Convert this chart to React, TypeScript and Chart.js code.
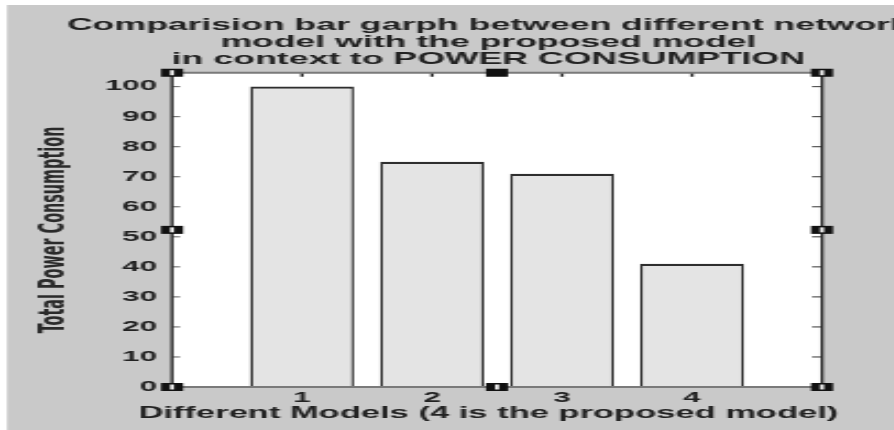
import React, { useEffect, useRef } from "react";
import { Chart, registerables } from "chart.js";

Chart.register(...registerables);

// ---- data ----
const models = [1, 2, 3, 4];
const powerConsumption = [100, 75, 71, 41];
const titleLines = [
  "Comparision bar garph between different network",
  "model with the proposed model",
  "in context to POWER CONSUMPTION",
];
const xTitle = "Different Models (4 is the proposed model)";
const yTitle = "Total Power Consumption";
const xRange = [0, 5];
const yRange = [0, 104.6];
const yStep = 10;

// ---- layout (the picture is horizontally stretched, like the reference) ----
const SCALE_X = 2.2;
const CANVAS_W = 444;
const CANVAS_H = 430;
const FONT = "'Liberation Sans', Arial, Helvetica, sans-serif";
const NARROW = "'Liberation Sans Narrow', 'Arial Narrow', 'DejaVu Sans Condensed', 'Liberation Sans', sans-serif";
const TEXT = "#222222";

const matlabFrame = {
  id: "matlabFrame",
  beforeDraw(chart: any) {
    const { ctx, width, height, chartArea: a } = chart;
    ctx.save();
    ctx.fillStyle = "#ffffff";
    ctx.fillRect(0, 0, width, height);
    ctx.fillStyle = "#c9c9c9";
    ctx.fillRect(7 / SCALE_X, 5, width, height);
    ctx.fillStyle = "#ffffff";
    ctx.fillRect(a.left, a.top, a.right - a.left, a.bottom - a.top);
    ctx.restore();
  },
  beforeDatasetsDraw(chart: any) {
    const { ctx, chartArea: a, scales } = chart;
    const y = scales.y;
    const x = scales.x;
    ctx.save();
    ctx.lineWidth = 1.2;
    for (const t of y.ticks) {
      const py = y.getPixelForValue(t.value);
      ctx.strokeStyle = "#777";
      ctx.beginPath();
      ctx.moveTo(a.left, py);
      ctx.lineTo(a.left + 8 / SCALE_X, py);
      ctx.stroke();
      ctx.strokeStyle = "#555";
      ctx.beginPath();
      ctx.moveTo(a.right, py);
      ctx.lineTo(a.right - 10 / SCALE_X, py);
      ctx.stroke();
    }
    ctx.strokeStyle = "#222";
    ctx.lineWidth = 3 / SCALE_X;
    for (const t of x.ticks) {
      const px = x.getPixelForValue(t.value);
      ctx.beginPath();
      ctx.moveTo(px, a.top);
      ctx.lineTo(px, a.top + 4);
      ctx.stroke();
      ctx.beginPath();
      ctx.moveTo(px, a.bottom);
      ctx.lineTo(px, a.bottom - 4);
      ctx.stroke();
    }
    ctx.restore();
  },
  afterDatasetsDraw(chart: any) {
    const { ctx, chartArea: a } = chart;
    ctx.save();
    // horizontal box lines
    ctx.strokeStyle = "#7a7a7a";
    ctx.lineWidth = 1.8;
    ctx.beginPath();
    ctx.moveTo(a.left, a.top);
    ctx.lineTo(a.right, a.top);
    ctx.moveTo(a.left, a.bottom);
    ctx.lineTo(a.right, a.bottom);
    ctx.stroke();
    // vertical box lines
    ctx.strokeStyle = "#2a2a2a";
    ctx.lineWidth = 3 / SCALE_X;
    ctx.beginPath();
    ctx.moveTo(a.left, a.top);
    ctx.lineTo(a.left, a.bottom);
    ctx.moveTo(a.right, a.top);
    ctx.lineTo(a.right, a.bottom);
    ctx.stroke();
    // selection handles
    const handle = (cx: number, cy: number, white: boolean) => {
      const w = 22 / SCALE_X;
      const h = 8;
      ctx.fillStyle = "#111";
      ctx.fillRect(cx - w / 2, cy - h / 2, w, h);
      if (white) {
        ctx.fillStyle = "#f4f4f4";
        ctx.fillRect(cx - 2 / SCALE_X, cy - 2.5, 4 / SCALE_X, 5);
      }
    };
    const mx = (a.left + a.right) / 2;
    const my = (a.top + a.bottom) / 2;
    handle(a.left, a.top, true);
    handle(a.right, a.top, true);
    handle(a.left, a.bottom, true);
    handle(a.right, a.bottom, true);
    handle(mx, a.top, false);
    handle(mx, a.bottom, true);
    handle(a.left, my, true);
    handle(a.right, my, true);
    ctx.restore();
  },
};

export default function App() {
  const canvasRef = useRef<HTMLCanvasElement>(null);

  useEffect(() => {
    document.body.style.margin = "0";
    const canvas = canvasRef.current!;
    const chart = new Chart(canvas, {
      type: "bar",
      data: {
        datasets: [
          {
            data: models.map((m, i) => ({ x: m, y: powerConsumption[i] })),
            backgroundColor: "#e4e4e4",
            borderColor: "#2e2e2e",
            borderWidth: { top: 2.2, left: 3 / SCALE_X, right: 3 / SCALE_X, bottom: 0 },
            borderSkipped: false,
            barPercentage: 0.8,
            categoryPercentage: 1,
          },
        ],
      },
      options: {
        animation: false,
        responsive: false,
        devicePixelRatio: 1,
        layout: { padding: 0 },
        events: [],
        plugins: {
          legend: { display: false },
          tooltip: { enabled: false },
          title: {
            display: true,
            text: titleLines,
            color: TEXT,
            fullSize: true,
            font: { family: FONT, size: 16.2, weight: "bold", lineHeight: "17.35px" },
            padding: { top: 16.6, bottom: 4.1 },
          },
          subtitle: {
            display: true,
            position: "bottom",
            text: xTitle,
            color: TEXT,
            fullSize: true,
            font: { family: FONT, size: 15.7, weight: "bold", lineHeight: "19.1px" },
            padding: { top: 0, bottom: 6.4 },
          },
        },
        scales: {
          x: {
            type: "linear",
            min: xRange[0],
            max: xRange[1],
            offset: false,
            grid: { display: false, drawTicks: false },
            border: { display: false },
            afterBuildTicks: (s: any) => {
              s.ticks = models.map((v) => ({ value: v }));
            },
            ticks: {
              color: TEXT,
              font: { family: FONT, size: 14.2, weight: "bold" },
              padding: 2.5,
              autoSkip: false,
              maxRotation: 0,
            },
            afterFit: (s: any) => {
              s.height = 17.5;
            },
          },
          y: {
            type: "linear",
            position: "left",
            min: yRange[0],
            max: yRange[1],
            grid: { display: false, drawTicks: false },
            border: { display: false },
            ticks: {
              stepSize: yStep,
              includeBounds: false,
              color: TEXT,
              font: { family: FONT, size: 14.2, weight: "bold" },
              padding: 6.8,
            },
            title: {
              display: true,
              text: yTitle,
              color: "#2a2a2a",
              font: { family: NARROW, size: 16, weight: "bold" },
              padding: { top: 14.9, bottom: 0 },
            },
            afterFit: (s: any) => {
              s.width = 172 / SCALE_X;
            },
          },
          y2: {
            type: "linear",
            position: "right",
            min: yRange[0],
            max: yRange[1],
            grid: { display: false, drawTicks: false },
            border: { display: false },
            ticks: { display: false },
            afterFit: (s: any) => {
              s.width = CANVAS_W - 822 / SCALE_X;
            },
          },
        },
      },
      plugins: [matlabFrame],
    } as any);
    return () => chart.destroy();
  }, []);

  return (
    <div style={{ width: 894, height: 430, overflow: "hidden", position: "relative", background: "#fff" }}>
      <div
        style={{
          position: "absolute",
          left: 0,
          top: 0,
          width: CANVAS_W,
          height: CANVAS_H,
          transform: `scaleX(${SCALE_X})`,
          transformOrigin: "0 0",
        }}
      >
        <canvas ref={canvasRef} width={CANVAS_W} height={CANVAS_H} style={{ display: "block" }} />
      </div>
    </div>
  );
}
